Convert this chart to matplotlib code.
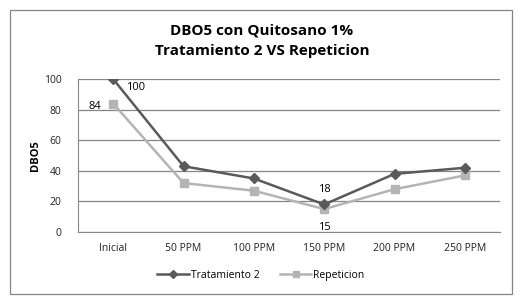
import matplotlib.pyplot as plt
from matplotlib.patches import Rectangle

categories = ["Inicial", "50 PPM", "100 PPM", "150 PPM", "200 PPM", "250 PPM"]
tratamiento2 = [100, 43, 35, 18, 38, 42]
repeticion = [84, 32, 27, 15, 28, 37]

plt.rcParams['font.family'] = ['Open Sans', 'DejaVu Sans']

fig = plt.figure(figsize=(5.22, 3.04), dpi=100)
ax = fig.add_axes([0.1494, 0.2368, 0.8086, 0.5032])

# outer chart border
fig.patches.append(Rectangle((10 / 522, 10 / 304), 502 / 522, 284 / 304,
                             transform=fig.transFigure, fill=False,
                             edgecolor='#868686', linewidth=0.9))

x = list(range(len(categories)))
ax.plot(x, tratamiento2, color='#5a5a5a', marker='D', markersize=5,
        linewidth=1.8, label='Tratamiento 2', zorder=3)
ax.plot(x, repeticion, color='#b4b4b4', marker='s', markersize=6,
        linewidth=1.8, label='Repeticion', zorder=2)

ax.set_xlim(-0.5, len(categories) - 0.5)
ax.set_ylim(0, 100)
ax.set_yticks(range(0, 101, 20))
ax.set_xticks(x)
ax.set_xticklabels(categories)
ax.tick_params(axis='both', length=0, labelsize=7.5, colors='#222222')
ax.tick_params(axis='x', pad=8)
ax.tick_params(axis='y', pad=12)
ax.grid(axis='y', color='#868686', linewidth=0.9)
ax.set_axisbelow(True)
for s in ['top', 'right']:
    ax.spines[s].set_visible(False)
ax.spines['bottom'].set_color('#868686')
ax.spines['left'].set_color('#868686')

ax.set_ylabel('DBO5', fontsize=8, fontweight='bold', labelpad=2)

# data labels
ax.annotate(str(tratamiento2[0]), (0, tratamiento2[0]), xytext=(9, -8),
            textcoords='offset points', fontsize=8)
ax.annotate(str(repeticion[0]), (0, repeticion[0]), xytext=(-18, -4),
            textcoords='offset points', fontsize=8)
ax.annotate(str(tratamiento2[3]), (3, tratamiento2[3]), xytext=(0, 9),
            textcoords='offset points', fontsize=8, ha='center')
ax.annotate(str(repeticion[3]), (3, repeticion[3]), xytext=(0, -15),
            textcoords='offset points', fontsize=8, ha='center')

fig.text(0.502, 0.866, 'DBO5 con Quitosano 1%\nTratamiento 2 VS Repeticion',
         ha='center', va='center', fontsize=11, fontweight='bold',
         linespacing=1.6)

fig.legend(loc='center', bbox_to_anchor=(0.5, 0.094), ncol=2, frameon=False,
           fontsize=7.5, handlelength=3, columnspacing=2, handletextpad=0.2,
           markerscale=0.8)

fig.savefig('out.png', dpi=100)
